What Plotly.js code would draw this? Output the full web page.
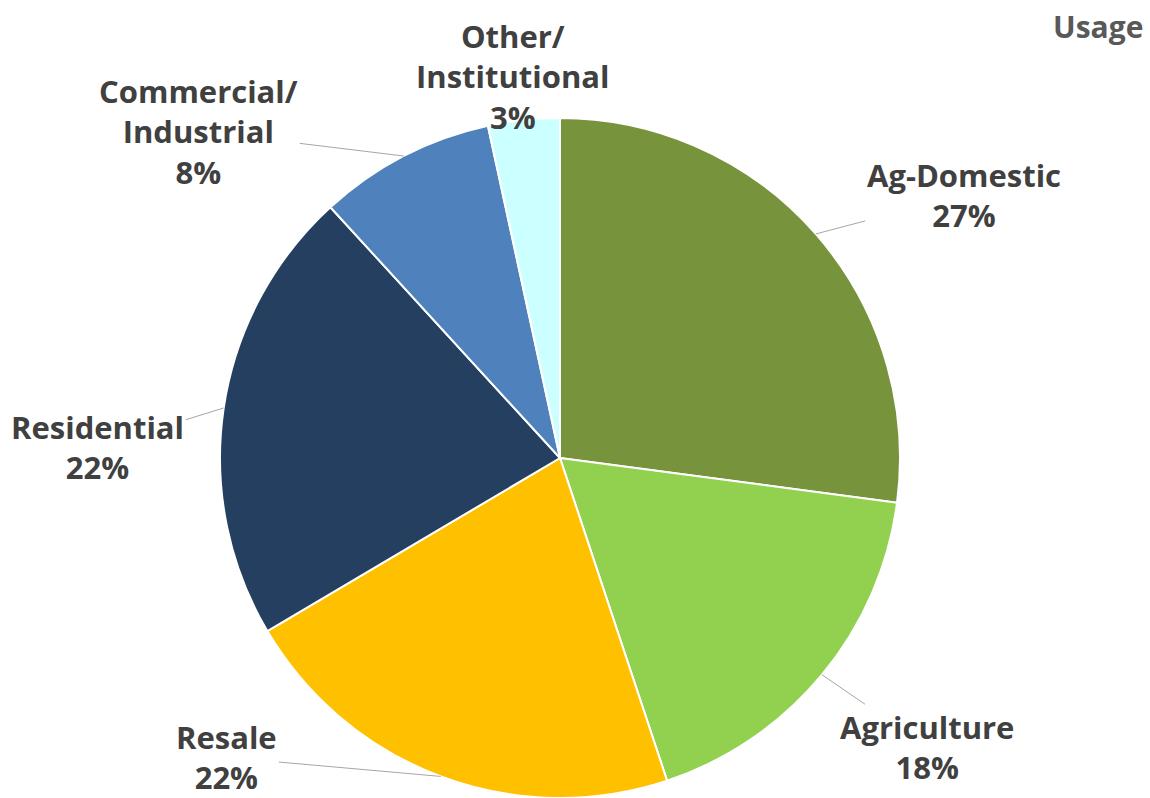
<!DOCTYPE html>
<html>
<head>
<meta charset="utf-8">
<script src="https://cdn.plot.ly/plotly-3.0.1.min.js"></script>
<style>html,body{margin:0;padding:0;background:#fff;}#chart{width:1150px;height:798px;}</style>
</head>
<body>
<div id="chart"></div>
<script>
const categories = ["Ag-Domestic", "Agriculture", "Resale", "Residential", "Commercial/<br>Industrial", "Other/<br>Institutional"];
const values = [27.1, 17.8, 21.6, 21.7, 8.4, 3.4];
const colors = ["#77933C", "#92D050", "#FFC000", "#243F60", "#4F81BD", "#CCFFFF"];
const chartTitle = "Usage";

// label offsets (pixels, from slice edge midpoint to label centre) - layout only
const labelOffsetX = [148, 105, -214, -126, -205, -11];
const labelOffsetY = [-39, 72, -19, 39, -25, -43];

const W = 1150, H = 798;
const dom = {x: [220 / W, 900 / W], y: [0, 1 - 118 / H]};

const trace = {
  type: "pie",
  labels: categories,
  values: values,
  sort: false,
  direction: "clockwise",
  rotation: 0,
  marker: {colors: colors, line: {color: "#FFFFFF", width: 2}},
  textinfo: "none",
  automargin: false,
  domain: dom,
  hoverinfo: "label+percent",
  showlegend: false
};

// leader-line labels derived from the data
const total = values.reduce((a, b) => a + b, 0);
const cxPx = (dom.x[0] + dom.x[1]) / 2 * W;
const cyPx = (1 - (dom.y[0] + dom.y[1]) / 2) * H;
const rPx = Math.min((dom.x[1] - dom.x[0]) * W, (dom.y[1] - dom.y[0]) * H) / 2;
let cum = 0;
const annotations = values.map((v, i) => {
  const mid = (cum + v / 2) / total * 2 * Math.PI;
  cum += v;
  const ex = cxPx + rPx * Math.sin(mid);
  const ey = cyPx - rPx * Math.cos(mid);
  return {
    xref: "paper", yref: "paper",
    x: ex / W, y: 1 - ey / H,
    ax: labelOffsetX[i], ay: labelOffsetY[i],
    text: categories[i] + "<br>" + Math.round(v / total * 100) + "%",
    showarrow: true, arrowhead: 0, arrowwidth: 1, arrowcolor: "#A6A6A6", standoff: 0,
    font: {family: "Open Sans, sans-serif", size: 31, color: "#404040", weight: "bold"},
    align: "center"
  };
});

// chart title as a paper annotation, top-right
annotations.push({
  xref: "paper", yref: "paper", x: 1 - 5 / W, y: 1 - 4 / H,
  xanchor: "right", yanchor: "top", showarrow: false,
  text: chartTitle,
  font: {family: "Open Sans, sans-serif", size: 30, color: "#595959", weight: "bold"}
});

const layout = {
  width: W, height: H,
  margin: {l: 0, r: 0, t: 0, b: 0},
  paper_bgcolor: "#FFFFFF",
  showlegend: false,
  annotations: annotations
};

Plotly.newPlot("chart", [trace], layout, {displayModeBar: false, staticPlot: true});
</script>
</body>
</html>
